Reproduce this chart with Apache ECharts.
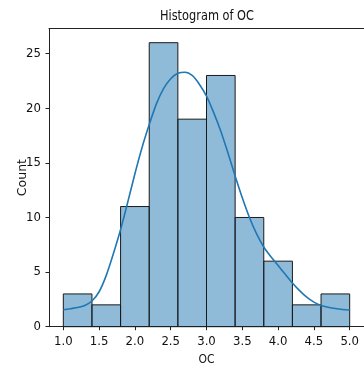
<!DOCTYPE html>
<html><head><meta charset="utf-8">
<script src="https://cdn.jsdelivr.net/npm/echarts@6/dist/echarts.min.js"></script>
<style>html,body{margin:0;padding:0;background:#fff}#c{width:364px;height:366px}</style>
</head><body><div id="c"></div>
<script>
// Histogram bins (edges) and counts
const binEdges = [1.0, 1.4, 1.8, 2.2, 2.6, 3.0, 3.4, 3.8, 4.2, 4.6, 5.0];
const counts = [3, 2, 11, 26, 19, 23, 10, 6, 2, 3];
// KDE curve (x, count-scaled density)
const kdeX = [1.0, 1.1, 1.2, 1.3, 1.4, 1.5, 1.6, 1.7, 1.8, 1.9, 2.0, 2.1, 2.2, 2.3, 2.4, 2.5, 2.6, 2.7, 2.8, 2.9, 3.0, 3.1, 3.2, 3.3, 3.4, 3.5, 3.6, 3.7, 3.8, 3.9, 4.0, 4.1, 4.2, 4.3, 4.4, 4.5, 4.6, 4.7, 4.8, 4.9, 5.0];
const kdeY = [1.55, 1.65, 1.75, 1.95, 2.35, 3.2, 4.7, 6.7, 8.9, 11.4, 14.0, 16.4, 18.5, 20.4, 21.8, 22.7, 23.2, 23.3, 23.0, 22.2, 21.1, 19.6, 17.9, 15.9, 13.8, 11.8, 10.0, 8.5, 7.3, 6.4, 5.6, 4.8, 4.0, 3.3, 2.7, 2.25, 1.95, 1.78, 1.66, 1.58, 1.53];
const xTicks = [1.0, 1.5, 2.0, 2.5, 3.0, 3.5, 4.0, 4.5, 5.0];
const yTicks = [0, 5, 10, 15, 20, 25];
const titleText = 'Histogram of OC';

const histData = counts.map((c, i) => [binEdges[i], binEdges[i + 1], c]);
const kdeData = kdeX.map((x, i) => [x, kdeY[i]]);

// measure title so it can be horizontally compressed like the reference
const mctx = document.createElement('canvas').getContext('2d');
mctx.font = '14.5px "DejaVu Sans"';
const titleW = mctx.measureText(titleText).width;
const titleScale = 94 / titleW;

const narrow = '"Liberation Sans Narrow", "DejaVu Sans Condensed", "DejaVu Sans"';
const chart = echarts.init(document.getElementById('c'), null, {renderer: 'canvas'});
chart.setOption({
  animation: false,
  backgroundColor: '#fff',
  graphic: [{
    type: 'text', x: 207, y: 16, scaleX: titleScale, scaleY: 1,
    style: {text: titleText, fontSize: 14.5, fontFamily: 'DejaVu Sans', fill: '#111',
      align: 'center', verticalAlign: 'middle'}
  }],
  grid: {left: 49, right: 0, top: 28.5, bottom: 39.3, containLabel: false, outerBoundsMode: 'none'},
  xAxis: [{
    type: 'value', min: 0.8, max: 5.2,
    name: 'OC', nameLocation: 'middle', nameGap: 27, nameMoveOverlap: false,
    nameTextStyle: {fontFamily: narrow, fontSize: 12, color: '#111'},
    axisLine: {show: true, lineStyle: {color: '#222', width: 1}},
    axisTick: {show: true, length: 3.5, lineStyle: {color: '#222'}, customValues: xTicks},
    axisLabel: {fontFamily: narrow, fontSize: 13, color: '#111', margin: 8, customValues: xTicks,
      formatter: v => v.toFixed(1)},
    splitLine: {show: false}
  }, {
    type: 'value', position: 'top', min: 0.8, max: 5.2,
    axisLine: {show: true, onZero: false, lineStyle: {color: '#222', width: 1}},
    axisTick: {show: false}, axisLabel: {show: false}, splitLine: {show: false}
  }],
  yAxis: {
    type: 'value', min: 0, max: 27.3,
    name: 'Count', nameLocation: 'middle', nameGap: 20, nameRotate: 90, nameMoveOverlap: false,
    nameTextStyle: {fontFamily: '"DejaVu Sans"', fontSize: 12.5, color: '#111'},
    axisLine: {show: true, lineStyle: {color: '#222', width: 1}},
    axisTick: {show: true, length: 3.5, lineStyle: {color: '#222'}, customValues: yTicks},
    axisLabel: {fontFamily: narrow, fontSize: 13, color: '#111', margin: 8, customValues: yTicks},
    splitLine: {show: false}
  },
  series: [{
    type: 'custom',
    data: histData,
    renderItem: function (params, api) {
      const p0 = api.coord([api.value(0), 0]);
      const p1 = api.coord([api.value(1), api.value(2)]);
      return {
        type: 'rect',
        shape: {x: p0[0], y: p1[1], width: p1[0] - p0[0], height: p0[1] - p1[1]},
        style: {fill: 'rgba(31,119,180,0.5)', stroke: '#1a1a1a', lineWidth: 1}
      };
    },
    encode: {x: [0, 1], y: 2}
  }, {
    type: 'line',
    data: kdeData,
    smooth: 0.25,
    showSymbol: false,
    lineStyle: {color: '#1f77b4', width: 1.6},
    z: 5
  }]
});
</script></body></html>
